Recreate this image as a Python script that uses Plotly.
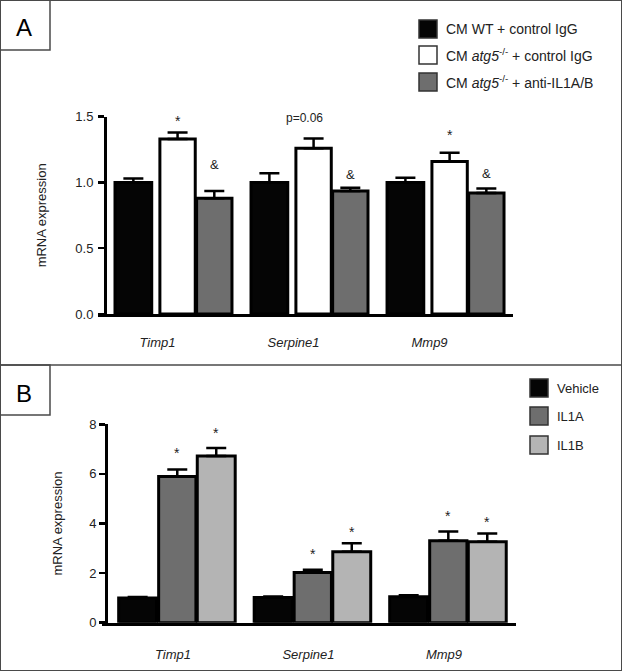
import plotly.graph_objects as go

W, H = 622, 671

# ---------------- data ----------------
genes = ["Timp1", "Serpine1", "Mmp9"]

# Panel A
a_names = ["CM WT + control IgG",
           "CM <i>atg5</i><sup>-/-</sup> + control IgG",
           "CM <i>atg5</i><sup>-/-</sup> + anti-IL1A/B"]
a_wt = [1.00, 1.00, 1.00]
a_wt_err = [0.03, 0.07, 0.035]
a_ko = [1.33, 1.26, 1.16]
a_ko_err = [0.05, 0.075, 0.065]
a_anti = [0.88, 0.935, 0.92]
a_anti_err = [0.055, 0.025, 0.035]
a_marks = [("*", 0, 1, 1.47), ("&", 0, 2, 1.14), ("p=0.06", 1, 1, 1.49),
           ("&", 1, 2, 1.06), ("*", 2, 1, 1.36), ("&", 2, 2, 1.07)]

# Panel B
b_names = ["Vehicle", "IL1A", "IL1B"]
b_veh = [1.00, 1.02, 1.05]
b_veh_err = [0.04, 0.04, 0.06]
b_il1a = [5.90, 2.02, 3.30]
b_il1a_err = [0.28, 0.12, 0.38]
b_il1b = [6.72, 2.86, 3.26]
b_il1b_err = [0.32, 0.34, 0.34]
b_marks = [("*", 0, 1, 6.85), ("*", 0, 2, 7.65), ("*", 1, 1, 2.78),
           ("*", 1, 2, 3.66), ("*", 2, 1, 4.29), ("*", 2, 2, 4.08)]

# ---------------- styles ----------------
FONT = "Liberation Sans, Arial, sans-serif"
TXT = "#222222"
a_colors = ["#050505", "#ffffff", "#6e6e6e"]
b_colors = ["#050505", "#6e6e6e", "#b4b4b4"]
a_off = [(-0.43, 0.27), (-0.10, 0.26), (0.17, 0.26)]
b_off = [(-0.43, 0.28), (-0.135, 0.275), (0.15, 0.28)]

fig = go.Figure()


def add_bars(vals_list, errs_list, names, colors, offs, xa, ya):
    for vals, errs, name, col, (off, wd) in zip(vals_list, errs_list, names, colors, offs):
        fig.add_trace(go.Bar(
            x=genes, y=vals, name=name, xaxis=xa, yaxis=ya,
            offset=off, width=wd,
            marker=dict(color=col, line=dict(color="black", width=3)),
            error_y=dict(type="data", array=errs, arrayminus=[0] * len(errs),
                         symmetric=False, color="black", thickness=2.5, width=10),
            showlegend=False, hoverinfo="skip",
        ))


add_bars([a_wt, a_ko, a_anti], [a_wt_err, a_ko_err, a_anti_err], a_names, a_colors, a_off, "x", "y")
add_bars([b_veh, b_il1a, b_il1b], [b_veh_err, b_il1a_err, b_il1b_err], b_names, b_colors, b_off, "x2", "y2")

annotations = []
for text, gi, si, yv in a_marks:
    off, wd = a_off[si]
    is_star = text == "*"
    annotations.append(dict(x=gi + off + wd / 2, y=yv, xref="x", yref="y", text=text,
                            showarrow=False, xanchor="center",
                            xshift=-9 if text.startswith("p=") else 0,
                            font=dict(family=FONT, size=14 if is_star else (12 if text.startswith("p=") else 13),
                                      color=TXT)))
for text, gi, si, yv in b_marks:
    off, wd = b_off[si]
    annotations.append(dict(x=gi + off + wd / 2, y=yv, xref="x2", yref="y2", text=text,
                            showarrow=False, xanchor="center",
                            font=dict(family=FONT, size=14, color=TXT)))

shapes = []
# outer frame and divider
shapes.append(dict(type="rect", xref="paper", yref="paper", x0=0, y0=0, x1=1, y1=1,
                   line=dict(color="#4a4a4a", width=2)))
shapes.append(dict(type="line", xref="paper", yref="paper", x0=0, x1=1,
                   y0=1 - 365 / H, y1=1 - 365 / H, line=dict(color="#4a4a4a", width=1.5)))
# panel letter boxes
for top, letter in [(0, "A"), (365, "B")]:
    shapes.append(dict(type="rect", xref="paper", yref="paper", x0=0, x1=50 / W,
                       y0=1 - (top + 50) / H, y1=1 - top / H,
                       line=dict(color="#4a4a4a", width=1.5)))
    annotations.append(dict(x=24 / W, y=1 - (top + 28) / H, xref="paper", yref="paper",
                            text=letter, showarrow=False, xanchor="center", yanchor="middle",
                            font=dict(family=FONT, size=24, color="black")))

# legends drawn as boxes + text
def add_legend(names, colors, x0px, ycenters, fsize):
    for name, col, yc in zip(names, colors, ycenters):
        shapes.append(dict(type="rect", xref="paper", yref="paper",
                           x0=x0px / W, x1=(x0px + 18) / W,
                           y0=1 - (yc + 9) / H, y1=1 - (yc - 9) / H,
                           fillcolor=col, line=dict(color="#333333", width=1.5)))
        annotations.append(dict(x=(x0px + 25) / W, y=1 - yc / H, xref="paper", yref="paper",
                                text=name, showarrow=False, xanchor="left", yanchor="middle",
                                font=dict(family=FONT, size=fsize, color=TXT)))


add_legend(a_names, a_colors, 419, [29, 55, 82], 14)
add_legend(b_names, b_colors, 530, [388, 416, 445], 13)

axis_common = dict(showgrid=False, zeroline=False, showline=True, linecolor="black",
                   linewidth=3, automargin=False, fixedrange=True)

fig.update_layout(
    width=W, height=H, margin=dict(l=0, r=0, t=0, b=0, pad=0),
    paper_bgcolor="white", plot_bgcolor="white",
    barmode="overlay", showlegend=False,
    font=dict(family=FONT, color=TXT),
    xaxis=dict(domain=[98 / W, 513 / W], anchor="y", range=[-0.555, 2.496],
               tickvals=genes, ticktext=[f"<i>{g}</i>" for g in genes],
               ticks="", tickfont=dict(size=13, color=TXT), ticklabelstandoff=14,
               ticklabelshift=-16, **axis_common),
    yaxis=dict(domain=[1 - 314 / H, 1 - 116.7 / H], anchor="free", position=105 / W,
               range=[0, 1.5], tickvals=[0, 0.5, 1.0, 1.5], tickformat=".1f",
               ticks="outside", ticklen=6, tickwidth=2.5, tickcolor="black",
               tickfont=dict(size=13, color=TXT), ticklabelstandoff=2,
               title=dict(text="mRNA expression", font=dict(size=13, color=TXT), standoff=24),
               **axis_common),
    xaxis2=dict(domain=[102 / W, 516 / W], anchor="y2", range=[-0.553, 2.502],
                tickvals=genes, ticktext=[f"<i>{g}</i>" for g in genes],
                ticks="", tickfont=dict(size=13, color=TXT), ticklabelstandoff=18,
                ticklabelshift=-4, **axis_common),
    yaxis2=dict(domain=[1 - 622.7 / H, 1 - 424.3 / H], anchor="free", position=106 / W,
                range=[0, 8], tickvals=[0, 2, 4, 6, 8],
                ticks="outside", ticklen=6, tickwidth=2.5, tickcolor="black",
                tickfont=dict(size=13, color=TXT),
                title=dict(text="mRNA expression", font=dict(size=13, color=TXT), standoff=22),
                **axis_common),
    shapes=shapes, annotations=annotations,
)

fig.write_html(
    "out.html",
    config={"displayModeBar": False, "staticPlot": True},
    post_script="document.body.style.margin='0';document.body.style.padding='0';"
                "document.documentElement.style.overflow='hidden';",
)
